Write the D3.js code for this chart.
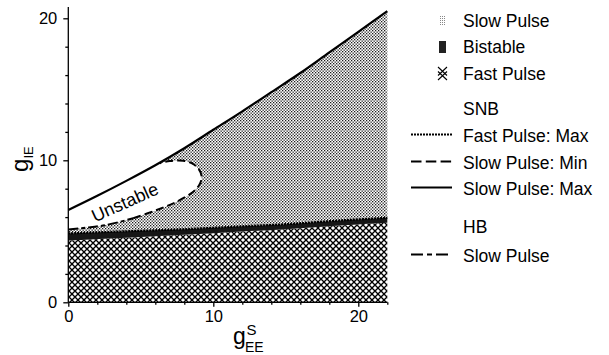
<!DOCTYPE html>
<html>
<head>
<meta charset="utf-8">
<script src="https://cdn.jsdelivr.net/npm/d3@7"></script>
<style>
  html, body { margin: 0; padding: 0; background: #fff; }
  svg { display: block; font-family: "Liberation Sans", Arial, Helvetica, sans-serif; }
</style>
</head>
<body>
<svg id="chart" width="609" height="355"></svg>
<script>
// ---------- data ----------
const xMajorTicks = [0, 10, 20];
const yMajorTicks = [0, 10, 20];
const xMinorTicks = [2, 4, 6, 8, 12, 14, 16, 18, 22];
const yMinorTicks = [2, 4, 6, 8, 12, 14, 16, 18];

// SNB Slow Pulse: Max (upper boundary)
const slowMaxX = [0, 2, 4, 6, 8, 10, 12, 14, 16, 18, 20, 22];
const slowMaxY = [6.5, 7.5, 8.55, 9.65, 10.85, 12.15, 13.45, 14.8, 16.15, 17.6, 19.05, 20.5];

// Bistable band (between fast-pulse region and slow-pulse region)
const bandX = [0, 4, 8, 12, 15, 19, 22];
const bandLow = [4.35, 4.55, 4.75, 4.98, 5.15, 5.42, 5.6];
const bandHigh = [4.85, 5.0, 5.15, 5.35, 5.5, 5.78, 5.95];

// HB Slow Pulse (lower-left part of unstable region border)
const hbX = [0, 1.2, 2.65, 4.48];
const hbY = [5.12, 5.25, 5.45, 5.92];

// SNB Slow Pulse: Min (loop closing the unstable region)
const slowMinX = [4.48, 6.1, 7.47, 8.62, 9.05, 9.2, 8.96, 8.5, 7.93, 7.0, 6.32];
const slowMinY = [5.92, 6.5, 7.08, 7.79, 8.3, 8.84, 9.43, 9.8, 9.97, 9.95, 9.79];

// legend
const areaLegend = ["Slow Pulse", "Bistable", "Fast Pulse"];
const lineLegendHeaders = ["SNB", "HB"];
const lineLegend = ["Fast Pulse: Max", "Slow Pulse: Min", "Slow Pulse: Max", "Slow Pulse"];

// ---------- scales ----------
const svg = d3.select("#chart");
const x = d3.scaleLinear().domain([0, 22]).range([68.3, 387.3]);
const y = d3.scaleLinear().domain([0, 20.8]).range([302.3, 302.3 - 20.8 * 14.2]);

// ---------- patterns ----------
const defs = svg.append("defs");
const stip = defs.append("pattern").attr("id", "stipple").attr("patternUnits", "userSpaceOnUse")
  .attr("width", 3).attr("height", 3);
stip.append("rect").attr("width", 3).attr("height", 3).attr("fill", "#fff");
stip.append("rect").attr("x", 0).attr("y", 0).attr("width", 1.3).attr("height", 1.3).attr("fill", "#1a1a1a");
stip.append("rect").attr("x", 1.5).attr("y", 1.5).attr("width", 1.3).attr("height", 1.3).attr("fill", "#1a1a1a");

const hatch = defs.append("pattern").attr("id", "hatch").attr("patternUnits", "userSpaceOnUse")
  .attr("width", 6).attr("height", 6);
hatch.append("rect").attr("width", 6).attr("height", 6).attr("fill", "#fff");
hatch.append("path").attr("d", "M-1,-1L7,7M7,-1L-1,7")
  .attr("stroke", "#000").attr("stroke-width", 1.35);

// ---------- areas ----------
const pts = (xs, ys) => xs.map((d, i) => [d, ys[i]]);
const line = d3.line().x(d => x(d[0])).y(d => y(d[1])).curve(d3.curveCatmullRom);

const plot = svg.append("g");
const bandLowPts = pts(bandX, bandLow);
const bandHighPts = pts(bandX, bandHigh);
const slowMaxPts = pts(slowMaxX, slowMaxY);

// fast pulse (crosshatch)
const areaFast = d3.area().x(d => x(d[0])).y0(y(0)).y1(d => y(d[1])).curve(d3.curveCatmullRom);
plot.append("path").attr("d", areaFast(bandLowPts)).attr("fill", "url(#hatch)");

// slow pulse (stipple) between band top and upper SNB
const interp = (xs, ys, xv) => {
  for (let i = 0; i < xs.length - 1; i++) {
    if (xv >= xs[i] && xv <= xs[i + 1]) {
      const t = (xv - xs[i]) / (xs[i + 1] - xs[i]);
      return ys[i] + t * (ys[i + 1] - ys[i]);
    }
  }
  return ys[ys.length - 1];
};
const slowTop = line(slowMaxPts);
const bandTopRev = line(bandHighPts.slice().reverse());
plot.append("path")
  .attr("d", slowTop + "L" + bandTopRev.slice(1) + "Z")
  .attr("fill", "url(#stipple)");

// bistable band
const areaBand = d3.area().x(d => x(d[0])).y0(d => y(interp(bandX, bandLow, d[0]))).y1(d => y(d[1])).curve(d3.curveCatmullRom);
plot.append("path").attr("d", areaBand(bandHighPts)).attr("fill", "#161616");

// unstable region (white)
const upperPart = slowMaxPts.filter(d => d[0] < 6.32).concat([[6.32, 9.79]]);
const loopPts = pts(slowMinX, slowMinY).slice().reverse().concat(pts(hbX, hbY).slice().reverse());
plot.append("path")
  .attr("d", line(upperPart) + "L" + line(loopPts).slice(1) + "Z")
  .attr("fill", "#fff");

// ---------- lines ----------
plot.append("path").attr("d", line(slowMaxPts)).attr("fill", "none")
  .attr("stroke", "#000").attr("stroke-width", 2.2);
plot.append("path").attr("d", line(pts(slowMinX, slowMinY))).attr("fill", "none")
  .attr("stroke", "#000").attr("stroke-width", 2).attr("stroke-dasharray", "8,4");
plot.append("path").attr("d", line(pts(hbX, hbY))).attr("fill", "none")
  .attr("stroke", "#000").attr("stroke-width", 2).attr("stroke-dasharray", "10,3,4,3");
plot.append("path").attr("d", line(bandHighPts)).attr("fill", "none")
  .attr("stroke", "#000").attr("stroke-width", 2.2).attr("stroke-dasharray", "2,1");

// Unstable label
plot.append("text").attr("x", 0).attr("y", 0).attr("dy", "0.35em")
  .attr("transform", `translate(${x(3.9)},${y(7.05)}) rotate(-24)`)
  .attr("text-anchor", "middle").attr("font-size", 18).attr("fill", "#000")
  .text("Unstable");

// ---------- axes ----------
const ax = svg.append("g").attr("stroke", "#000").attr("fill", "none").attr("stroke-width", 1.3);
ax.append("line").attr("x1", x(0)).attr("x2", x(22)).attr("y1", y(0)).attr("y2", y(0));
ax.append("line").attr("x1", x(0)).attr("x2", x(0)).attr("y1", y(0)).attr("y2", y(20.8));

const xAxisMajor = d3.axisBottom(x).tickValues(xMajorTicks).tickSize(4.5).tickFormat(d3.format("d"));
const xAxisMinor = d3.axisBottom(x).tickValues(xMinorTicks).tickSize(2.5).tickFormat("");
const yAxisMajor = d3.axisLeft(y).tickValues(yMajorTicks).tickSize(5).tickFormat(d3.format("d"));
const yAxisMinor = d3.axisLeft(y).tickValues(yMinorTicks).tickSize(3).tickFormat("");

function styleAxis(g) {
  g.select(".domain").remove();
  g.selectAll(".tick line").attr("stroke", "#000").attr("stroke-width", 1.3);
  g.selectAll(".tick text").attr("fill", "#000").attr("font-size", 16.5)
    .attr("font-family", "Liberation Sans, Arial, sans-serif");
}
svg.append("g").attr("transform", `translate(0,${y(0)})`).call(xAxisMajor).call(styleAxis)
  .selectAll(".tick text").attr("dy", "0.72em").attr("y", 8);
svg.append("g").attr("transform", `translate(0,${y(0)})`).call(xAxisMinor).call(styleAxis);
svg.append("g").attr("transform", `translate(${x(0)},0)`).call(yAxisMajor).call(styleAxis)
  .selectAll(".tick text").attr("x", -11);
svg.append("g").attr("transform", `translate(${x(0)},0)`).call(yAxisMinor).call(styleAxis);

// axis titles
const xt = svg.append("g").attr("fill", "#000");
xt.append("text").attr("x", 233).attr("y", 344).attr("font-size", 23).text("g");
xt.append("text").attr("x", 246.5).attr("y", 335).attr("font-size", 15).text("S");
xt.append("text").attr("x", 245).attr("y", 352).attr("font-size", 14).text("EE");

const yt = svg.append("g").attr("fill", "#000").attr("transform", "translate(28,172) rotate(-90)");
yt.append("text").attr("x", 0).attr("y", 0).attr("font-size", 24).text("g");
yt.append("text").attr("x", 13.5).attr("y", 5).attr("font-size", 13).text("IE");

// ---------- legend ----------
const lg = svg.append("g");
const lx = 463;
const fs = 17.5;
const areaY = [26.7, 53.3, 80];
areaLegend.forEach((t, i) => {
  lg.append("text").attr("x", lx).attr("y", areaY[i]).attr("font-size", fs).attr("fill", "#000").text(t);
});
const stipL = defs.append("pattern").attr("id", "stippleL").attr("patternUnits", "userSpaceOnUse")
  .attr("width", 2).attr("height", 2);
stipL.append("rect").attr("width", 2).attr("height", 2).attr("fill", "#fff");
stipL.append("rect").attr("width", 1).attr("height", 1).attr("fill", "#888");
lg.append("rect").attr("x", 439).attr("y", 15).attr("width", 7).attr("height", 11).attr("fill", "url(#stippleL)");
lg.append("rect").attr("x", 439).attr("y", 41).attr("width", 7).attr("height", 12).attr("fill", "#222");
lg.append("path").attr("d", "M438,67L447,75.5M447,67L438,75.5M438,71.5L447,80M447,71.5L438,80")
  .attr("stroke", "#000").attr("stroke-width", 1.1).attr("fill", "none");

lg.append("text").attr("x", lx).attr("y", 115).attr("font-size", fs).attr("fill", "#000").text(lineLegendHeaders[0]);
lg.append("text").attr("x", lx).attr("y", 233).attr("font-size", fs).attr("fill", "#000").text(lineLegendHeaders[1]);
const lineY = [142, 169, 195, 262];
const lineStyles = [
  { dash: "2,1", w: 2.2 },
  { dash: "10.5,4.3", w: 2 },
  { dash: null, w: 2.2 },
  { dash: "12,4,5,4", w: 2 }
];
lineLegend.forEach((t, i) => {
  lg.append("text").attr("x", lx).attr("y", lineY[i]).attr("font-size", fs).attr("fill", "#000").text(t);
  const l = lg.append("line").attr("x1", 411).attr("x2", 452)
    .attr("y1", lineY[i] - 7.5).attr("y2", lineY[i] - 7.5)
    .attr("stroke", "#000").attr("stroke-width", lineStyles[i].w);
  if (lineStyles[i].dash) l.attr("stroke-dasharray", lineStyles[i].dash);
});
</script>
</body>
</html>
